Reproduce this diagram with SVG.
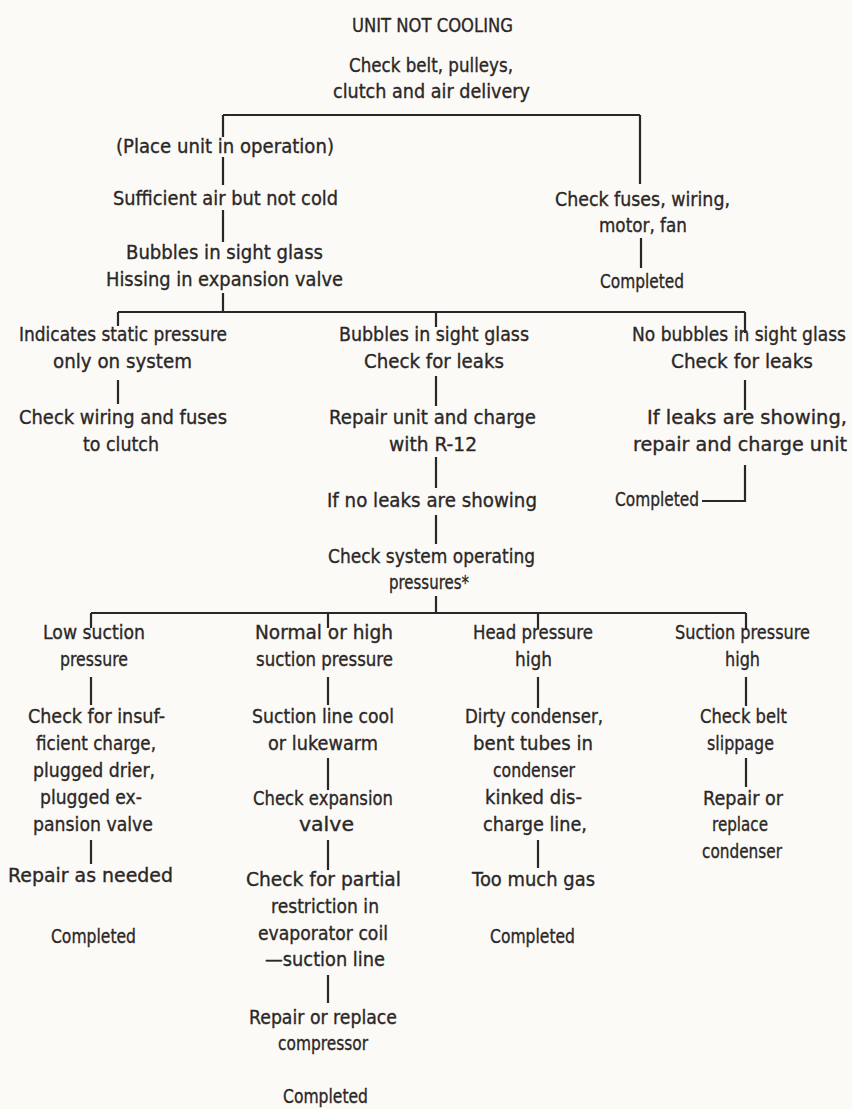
<svg xmlns="http://www.w3.org/2000/svg" width="852" height="1109" viewBox="0 0 852 1109">
<style>
text{font-family:"DejaVu Sans","Liberation Sans",sans-serif;font-size:19px;fill:#2b2727;stroke:#2b2727;stroke-width:0.35;}
.n{transform:scale(0.8,1);}
.c{fill:none;stroke:#2b2727;stroke-width:2.2;stroke-linecap:butt;}
</style>
<rect x="0" y="0" width="852" height="1109" fill="#fbfaf6"/>
<g id="connectors" class="c">
<path d="M223 115 H640 M223 115 V137 M223 157 V185 M223 210 V242 M223 293 V312 M640 115 V184 M641 238 V268"/>
<path d="M118 312 H745 M118 312 V326 M436 312 V327 M745 312 V333"/>
<path d="M118 380 V404 M436 376 V406 M436 457 V488 M436 515 V544 M436 596 V613 M745 380 V410 M745 465 V501 H702"/>
<path d="M91 613 H746 M91 613 V628 M328 613 V628 M538 613 V628 M746 613 V630"/>
<path d="M91 677 V705 M91 840 V864 M328 677 V705 M328 758 V790 M328 840 V870 M328 975 V1003 M538 677 V708 M538 840 V868 M746 677 V706 M746 758 V787"/>
</g>
<g id="title" class="n"><text x="440" y="32" textLength="201.25" lengthAdjust="spacingAndGlyphs">UNIT NOT COOLING</text></g>
<g id="n-check-belt" class="n">
<text x="436.25" y="72" textLength="205" lengthAdjust="spacingAndGlyphs">Check belt, pulleys,</text>
<text x="416.25" y="98" textLength="246.25" lengthAdjust="spacingAndGlyphs">clutch and air delivery</text>
</g>
<g id="n-place" class="n"><text x="145" y="153" textLength="272.5" lengthAdjust="spacingAndGlyphs">(Place unit in operation)</text></g>
<g id="n-sufficient" class="n"><text x="141.25" y="205" textLength="281.25" lengthAdjust="spacingAndGlyphs">Sufficient air but not cold</text></g>
<g id="n-bubbles-hissing" class="n">
<text x="157.5" y="259" textLength="246.25" lengthAdjust="spacingAndGlyphs">Bubbles in sight glass</text>
<text x="132.5" y="286" textLength="296.25" lengthAdjust="spacingAndGlyphs">Hissing in expansion valve</text>
</g>
<g id="n-check-fuses" class="n">
<text x="693.75" y="206" textLength="218.75" lengthAdjust="spacingAndGlyphs">Check fuses, wiring,</text>
<text x="748.75" y="232" textLength="110" lengthAdjust="spacingAndGlyphs">motor, fan</text>
</g>
<g id="n-completed-1" class="n"><text x="750" y="288" textLength="105" lengthAdjust="spacingAndGlyphs">Completed</text></g>
<g id="n-static" class="n">
<text x="23.75" y="341" textLength="260" lengthAdjust="spacingAndGlyphs">Indicates static pressure</text>
<text x="66.25" y="368" textLength="173.75" lengthAdjust="spacingAndGlyphs">only on system</text>
</g>
<g id="n-wiring" class="n">
<text x="23.75" y="424" textLength="260" lengthAdjust="spacingAndGlyphs">Check wiring and fuses</text>
<text x="103.75" y="451" textLength="95" lengthAdjust="spacingAndGlyphs">to clutch</text>
</g>
<g id="n-bubbles-leaks" class="n">
<text x="423.75" y="341" textLength="237.5" lengthAdjust="spacingAndGlyphs">Bubbles in sight glass</text>
<text x="455" y="368" textLength="175" lengthAdjust="spacingAndGlyphs">Check for leaks</text>
</g>
<g id="n-repair-charge" class="n">
<text x="411.25" y="424" textLength="258.75" lengthAdjust="spacingAndGlyphs">Repair unit and charge</text>
<text x="486.25" y="451" textLength="110" lengthAdjust="spacingAndGlyphs">with R-12</text>
</g>
<g id="n-no-leaks" class="n"><text x="408.75" y="507" textLength="262.5" lengthAdjust="spacingAndGlyphs">If no leaks are showing</text></g>
<g id="n-operating" class="n">
<text x="410" y="563" textLength="258.75" lengthAdjust="spacingAndGlyphs">Check system operating</text>
<text x="486.25" y="589" textLength="100" lengthAdjust="spacingAndGlyphs">pressures*</text>
</g>
<g id="n-no-bubbles" class="n">
<text x="790" y="341" textLength="267.5" lengthAdjust="spacingAndGlyphs">No bubbles in sight glass</text>
<text x="838.75" y="368" textLength="177.5" lengthAdjust="spacingAndGlyphs">Check for leaks</text>
</g>
<g id="n-if-leaks" class="n">
<text x="808.75" y="424" textLength="250" lengthAdjust="spacingAndGlyphs">If leaks are showing,</text>
<text x="791.25" y="451" textLength="267.5" lengthAdjust="spacingAndGlyphs">repair and charge unit</text>
</g>
<g id="n-completed-2" class="n"><text x="768.75" y="506" textLength="105" lengthAdjust="spacingAndGlyphs">Completed</text></g>
<g id="n-low-suction" class="n">
<text x="53.75" y="639" textLength="127.5" lengthAdjust="spacingAndGlyphs">Low suction</text>
<text x="75" y="666" textLength="85" lengthAdjust="spacingAndGlyphs">pressure</text>
</g>
<g id="n-insufficient" class="n">
<text x="35" y="723" textLength="171.25" lengthAdjust="spacingAndGlyphs">Check for insuf-</text>
<text x="45" y="750" textLength="150" lengthAdjust="spacingAndGlyphs">ficient charge,</text>
<text x="41.25" y="777" textLength="152.5" lengthAdjust="spacingAndGlyphs">plugged drier,</text>
<text x="50" y="804" textLength="127.5" lengthAdjust="spacingAndGlyphs">plugged ex-</text>
<text x="41.25" y="831" textLength="150" lengthAdjust="spacingAndGlyphs">pansion valve</text>
</g>
<g id="n-repair-needed" class="n"><text x="10" y="882" textLength="206.25" lengthAdjust="spacingAndGlyphs">Repair as needed</text></g>
<g id="n-completed-3" class="n"><text x="63.75" y="943" textLength="106.25" lengthAdjust="spacingAndGlyphs">Completed</text></g>
<g id="n-normal-high" class="n">
<text x="318.75" y="639" textLength="172.5" lengthAdjust="spacingAndGlyphs">Normal or high</text>
<text x="320" y="666" textLength="171.25" lengthAdjust="spacingAndGlyphs">suction pressure</text>
</g>
<g id="n-suction-line" class="n">
<text x="315" y="723" textLength="177.5" lengthAdjust="spacingAndGlyphs">Suction line cool</text>
<text x="335" y="750" textLength="137.5" lengthAdjust="spacingAndGlyphs">or lukewarm</text>
</g>
<g id="n-expansion" class="n">
<text x="316.25" y="805" textLength="175" lengthAdjust="spacingAndGlyphs">Check expansion</text>
<text x="373.75" y="831" textLength="68.75" lengthAdjust="spacingAndGlyphs">valve</text>
</g>
<g id="n-partial" class="n">
<text x="307.5" y="886" textLength="193.75" lengthAdjust="spacingAndGlyphs">Check for partial</text>
<text x="338.75" y="913" textLength="135" lengthAdjust="spacingAndGlyphs">restriction in</text>
<text x="322.5" y="940" textLength="162.5" lengthAdjust="spacingAndGlyphs">evaporator coil</text>
<text x="331.25" y="966" textLength="150" lengthAdjust="spacingAndGlyphs">—suction line</text>
</g>
<g id="n-compressor" class="n">
<text x="311.25" y="1024" textLength="185" lengthAdjust="spacingAndGlyphs">Repair or replace</text>
<text x="347.5" y="1050" textLength="112.5" lengthAdjust="spacingAndGlyphs">compressor</text>
</g>
<g id="n-completed-4" class="n"><text x="353.75" y="1103" textLength="106.25" lengthAdjust="spacingAndGlyphs">Completed</text></g>
<g id="n-head" class="n">
<text x="591.25" y="639" textLength="150" lengthAdjust="spacingAndGlyphs">Head pressure</text>
<text x="643.75" y="666" textLength="46.25" lengthAdjust="spacingAndGlyphs">high</text>
</g>
<g id="n-dirty" class="n">
<text x="581.25" y="723" textLength="172.5" lengthAdjust="spacingAndGlyphs">Dirty condenser,</text>
<text x="591.25" y="750" textLength="150" lengthAdjust="spacingAndGlyphs">bent tubes in</text>
<text x="616.25" y="777" textLength="102.5" lengthAdjust="spacingAndGlyphs">condenser</text>
<text x="606.25" y="804" textLength="121.25" lengthAdjust="spacingAndGlyphs">kinked dis-</text>
<text x="603.75" y="831" textLength="130" lengthAdjust="spacingAndGlyphs">charge line,</text>
</g>
<g id="n-gas" class="n"><text x="590" y="886" textLength="153.75" lengthAdjust="spacingAndGlyphs">Too much gas</text></g>
<g id="n-completed-5" class="n"><text x="612.5" y="943" textLength="106.25" lengthAdjust="spacingAndGlyphs">Completed</text></g>
<g id="n-suction-high" class="n">
<text x="843.75" y="639" textLength="168.75" lengthAdjust="spacingAndGlyphs">Suction pressure</text>
<text x="906.25" y="666" textLength="43.75" lengthAdjust="spacingAndGlyphs">high</text>
</g>
<g id="n-belt-slippage" class="n">
<text x="875" y="723" textLength="108.75" lengthAdjust="spacingAndGlyphs">Check belt</text>
<text x="883.75" y="750" textLength="83.75" lengthAdjust="spacingAndGlyphs">slippage</text>
</g>
<g id="n-condenser" class="n">
<text x="878.75" y="805" textLength="100" lengthAdjust="spacingAndGlyphs">Repair or</text>
<text x="890" y="831" textLength="70" lengthAdjust="spacingAndGlyphs">replace</text>
<text x="877.5" y="858" textLength="100" lengthAdjust="spacingAndGlyphs">condenser</text>
</g>
</svg>
